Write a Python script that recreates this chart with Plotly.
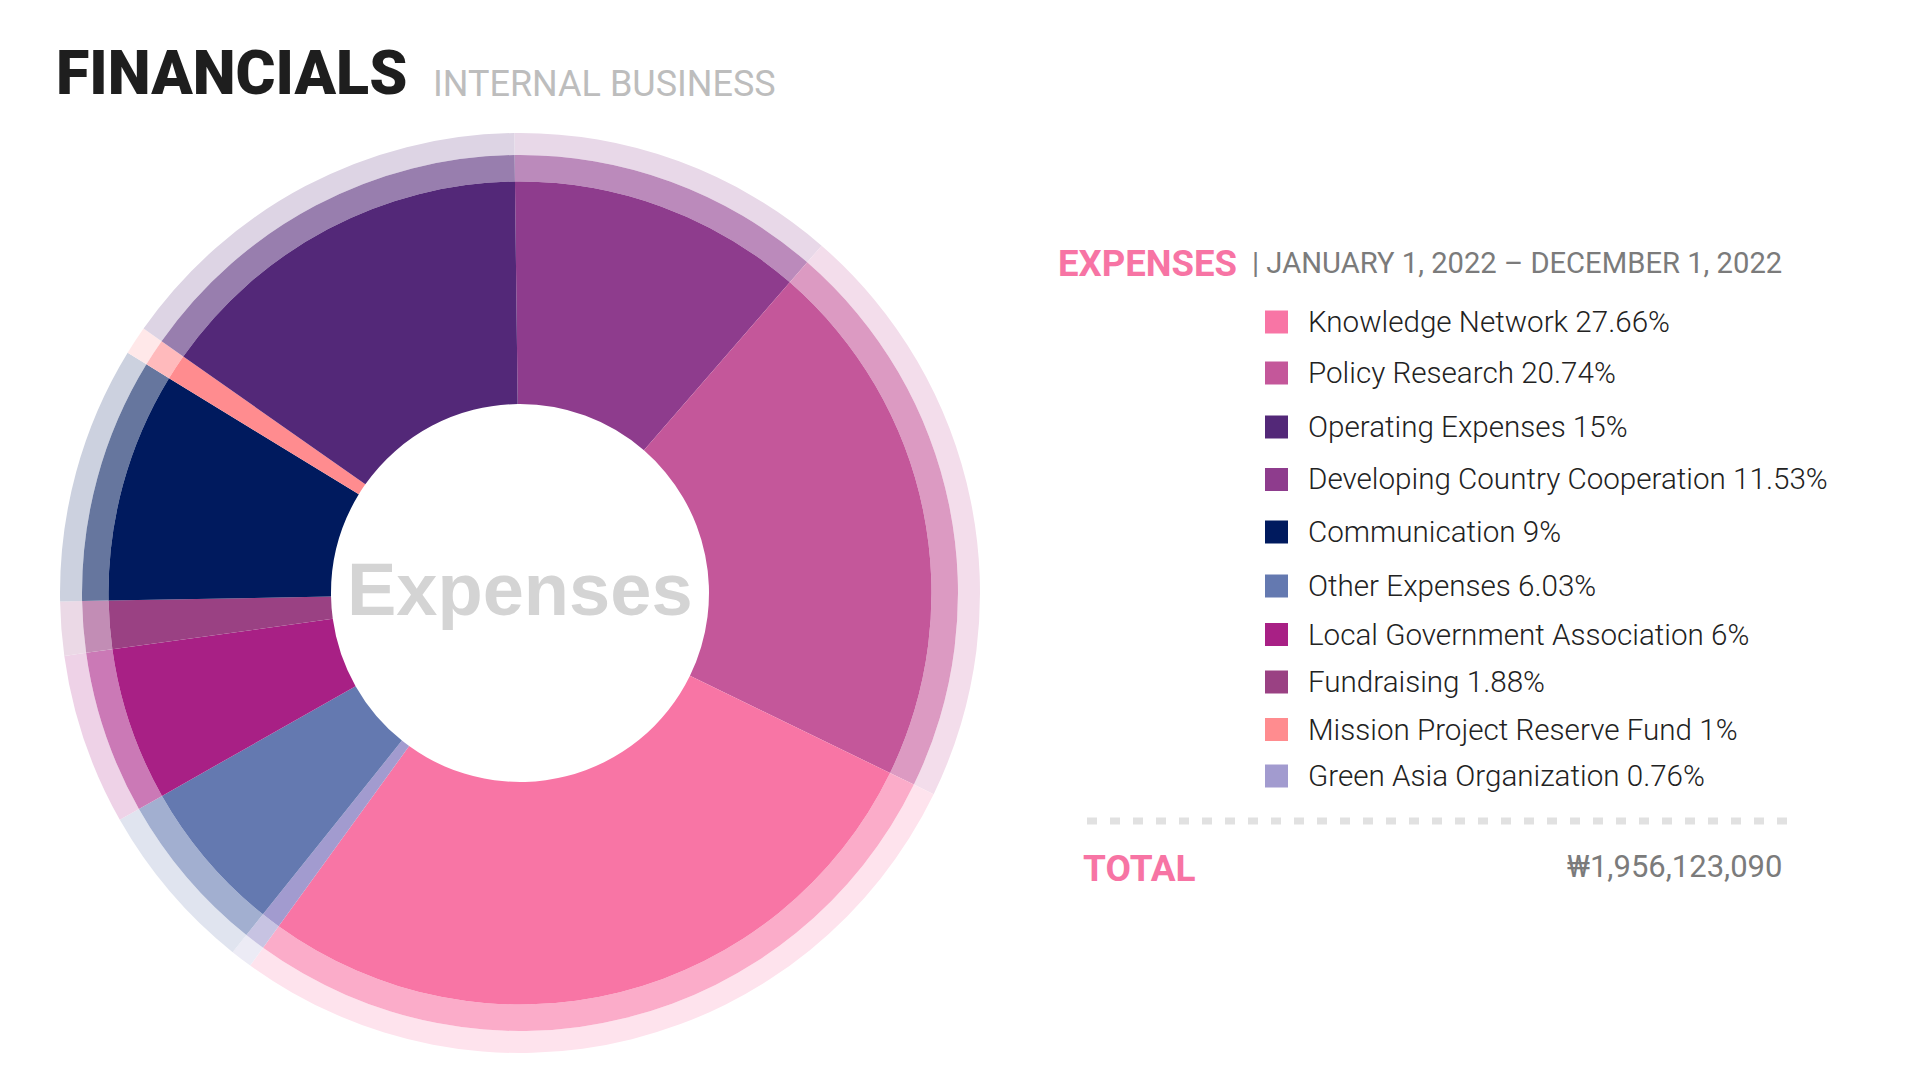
import plotly.graph_objects as go

# ---------------- data ----------------
labels = [
    "Developing Country Cooperation",
    "Policy Research",
    "Knowledge Network",
    "Green Asia Organization",
    "Other Expenses",
    "Local Government Association",
    "Fundraising",
    "Communication",
    "Mission Project Reserve Fund",
    "Operating Expenses",
]
values = [11.53, 20.74, 27.66, 0.76, 6.03, 6.0, 1.88, 9.0, 1.0, 15.0]
colors = ["#8E3C8D", "#C4579A", "#F875A5", "#A29BCF", "#6479B0",
          "#A82085", "#9A4183", "#001A5E", "#FF8C8F", "#532878"]

legend_order = [
    "Knowledge Network", "Policy Research", "Operating Expenses",
    "Developing Country Cooperation", "Communication", "Other Expenses",
    "Local Government Association", "Fundraising",
    "Mission Project Reserve Fund", "Green Asia Organization",
]
total_text = "₩1,956,123,090"
title_text = "FINANCIALS"
subtitle_text = "INTERNAL BUSINESS"
section_text = "EXPENSES"
period_text = "| JANUARY 1, 2022 \u2013 DECEMBER 1, 2022"
center_text = "Expenses"

# ---------------- layout helpers ----------------
W, H = 1920, 1080
OFF = 8  # page body margin offset of the rendered figure
CX, CY = 520, 593
R_OUT, R_MID, R_SOLID, R_HOLE = 460, 438, 411.5, 189


def px(x):
    return (x - OFF) / W


def py(y):
    return 1 - (y - OFF) / H


def dom(r):
    return dict(x=[px(CX - r), px(CX + r)], y=[py(CY + r), py(CY - r)])


def tint(hexcol, a):
    h = hexcol.lstrip("#")
    rgb = [int(h[i:i + 2], 16) for i in (0, 2, 4)]
    return "#%02X%02X%02X" % tuple(round(255 - (255 - c) * a) for c in rgb)


fig = go.Figure()
common = dict(labels=labels, values=values, sort=False, direction="clockwise",
              rotation=-0.7, textinfo="none", showlegend=False,
              hoverinfo="label+percent")
fig.add_trace(go.Pie(domain=dom(R_OUT), hole=R_MID / R_OUT,
                     marker=dict(colors=[tint(c, 0.2) for c in colors], line=dict(width=0)),
                     **common))
fig.add_trace(go.Pie(domain=dom(R_MID), hole=R_SOLID / R_MID,
                     marker=dict(colors=[tint(c, 0.6) for c in colors], line=dict(width=0)),
                     **common))
fig.add_trace(go.Pie(domain=dom(R_SOLID), hole=R_HOLE / R_SOLID,
                     marker=dict(colors=colors, line=dict(width=0)),
                     **common))

ann = []
shapes = []
ann.append(dict(x=px(54), y=py(72.5), xref="paper", yref="paper", xanchor="left", yanchor="middle",
                text=title_text, showarrow=False,
                font=dict(family="Roboto", size=61, weight=900, color="#1E1E1E")))
ann.append(dict(x=px(431), y=py(83.5), xref="paper", yref="paper", xanchor="left", yanchor="middle",
                text=subtitle_text, showarrow=False,
                font=dict(family="Roboto", size=36, color="#BDBDBD")))
ann.append(dict(x=px(CX), y=py(589), xref="paper", yref="paper", xanchor="center", yanchor="middle",
                text="<b>%s</b>" % center_text, showarrow=False,
                font=dict(family="Liberation Sans", size=74, color="#D4D4D4")))
ann.append(dict(x=px(1056), y=py(263), xref="paper", yref="paper", xanchor="left", yanchor="middle",
                text="<b>%s</b>" % section_text, showarrow=False,
                font=dict(family="Roboto", size=36.5, color="#F774A4")))
ann.append(dict(x=px(1784), y=py(263), xref="paper", yref="paper", xanchor="right", yanchor="middle",
                text=period_text, showarrow=False,
                font=dict(family="Roboto", size=29.2, color="#7B7B7B")))

row_y = [322, 373, 427, 479.5, 532, 586, 634.5, 682, 729.5, 776]
col_of = dict(zip(labels, colors))
val_of = dict(zip(labels, values))
for name, yy in zip(legend_order, row_y):
    shapes.append(dict(type="rect", xref="paper", yref="paper",
                       x0=px(1265), x1=px(1288), y0=py(yy + 11.5), y1=py(yy - 11.5),
                       fillcolor=col_of[name], line=dict(width=0)))
    ann.append(dict(x=px(1306), y=py(yy), xref="paper", yref="paper", xanchor="left", yanchor="middle",
                    text="%s %s%%" % (name, format(val_of[name], "g")), showarrow=False,
                    font=dict(family="Roboto", size=29.6, weight=300, color="#222222")))

shapes.append(dict(type="line", xref="paper", yref="paper", x0=px(1087), x1=px(1788),
                   y0=py(821), y1=py(821), line=dict(color="#E1E1E1", width=7, dash="10px,13px")))
ann.append(dict(x=px(1081), y=py(868), xref="paper", yref="paper", xanchor="left", yanchor="middle",
                text="<b>TOTAL</b>", showarrow=False,
                font=dict(family="Roboto", size=37, color="#F774A4")))
ann.append(dict(x=px(1784), y=py(866), xref="paper", yref="paper", xanchor="right", yanchor="middle",
                text=total_text, showarrow=False,
                font=dict(family="Roboto", size=31, color="#7B7B7B")))

fig.update_layout(width=W, height=H, margin=dict(l=0, r=0, t=0, b=0),
                  paper_bgcolor="white", plot_bgcolor="white",
                  annotations=ann, shapes=shapes)
fig.write_html("out.html")
